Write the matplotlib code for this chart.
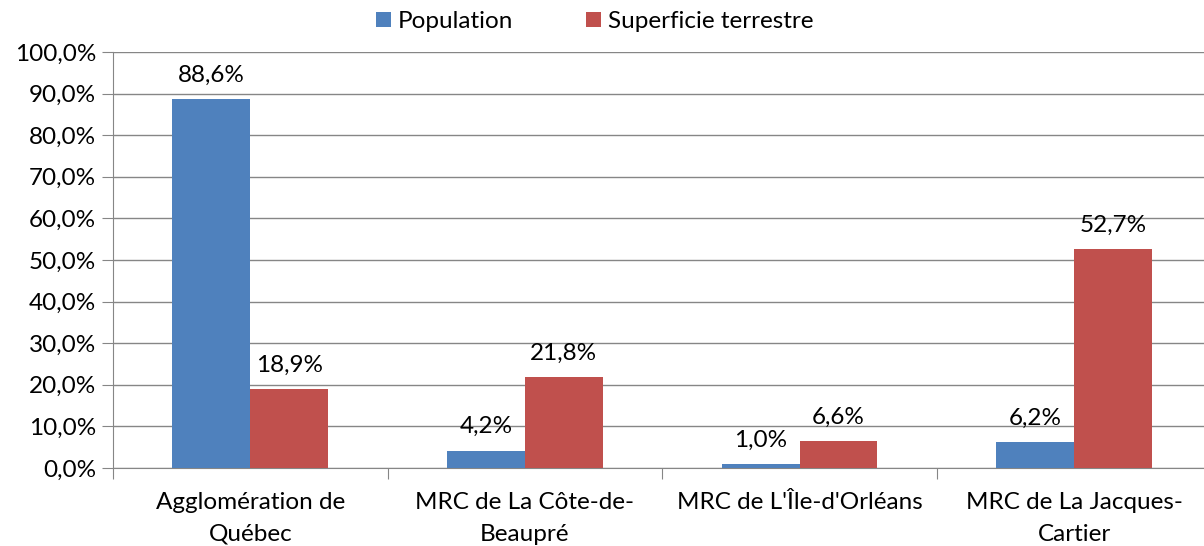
import numpy as np
import matplotlib.pyplot as plt
from matplotlib.ticker import FuncFormatter

plt.rcParams['font.family'] = ['Lato', 'DejaVu Sans']

# Données
categories = ["Agglomération de\nQuébec", "MRC de La Côte-de-\nBeaupré",
              "MRC de L'Île-d'Orléans", "MRC de La Jacques-\nCartier"]
population = [88.6, 4.2, 1.0, 6.2]
superficie = [18.9, 21.8, 6.6, 52.7]
series_names = ["Population", "Superficie terrestre"]

FS = 17.5

fig = plt.figure(figsize=(12.04, 5.46), dpi=100)
ax = fig.add_axes([113 / 1204, 78 / 546, 4 * 274.6 / 1204, 416 / 546])

x = np.arange(len(categories))
w = 0.284
b1 = ax.bar(x - w / 2, population, w, color='#4F81BD', label=series_names[0], zorder=3)
b2 = ax.bar(x + w / 2, superficie, w, color='#C0504D', label=series_names[1], zorder=3)

for bars in (b1, b2):
    for r in bars:
        h = r.get_height()
        ax.annotate(f"{h:.1f}%".replace('.', ','), (r.get_x() + r.get_width() / 2, h),
                    xytext=(0, 9.5), textcoords='offset points', ha='center', va='bottom',
                    fontsize=FS)

ax.set_xlim(-0.5, len(categories) - 0.5)
ax.set_ylim(0, 100)
ax.set_yticks(np.arange(0, 101, 10))
ax.yaxis.set_major_formatter(FuncFormatter(lambda v, p: f"{v:.1f}%".replace('.', ',')))
ax.grid(axis='y', color='#868686', linewidth=1, zorder=0)

# ticks aux limites des catégories, étiquettes au centre
ax.set_xticks(np.arange(-0.5, len(categories), 1))
ax.set_xticklabels([])
ax.set_xticks(x, minor=True)
ax.set_xticklabels(categories, minor=True, fontsize=FS, linespacing=1.65)
ax.tick_params(axis='x', which='minor', length=0, pad=17)
ax.tick_params(axis='x', which='major', length=8, color='#868686')
ax.tick_params(axis='y', length=8, color='#868686', labelsize=FS, pad=4)

for s in ['top', 'right']:
    ax.spines[s].set_visible(False)
for s in ['left', 'bottom']:
    ax.spines[s].set_color('#868686')

fig.legend(loc='upper center', bbox_to_anchor=(595 / 1204, 1.02), ncol=2, frameon=False,
           fontsize=FS, handlelength=0.6, handleheight=0.6, handletextpad=0.3,
           columnspacing=3.0)

fig.savefig('out.png', dpi=100)
